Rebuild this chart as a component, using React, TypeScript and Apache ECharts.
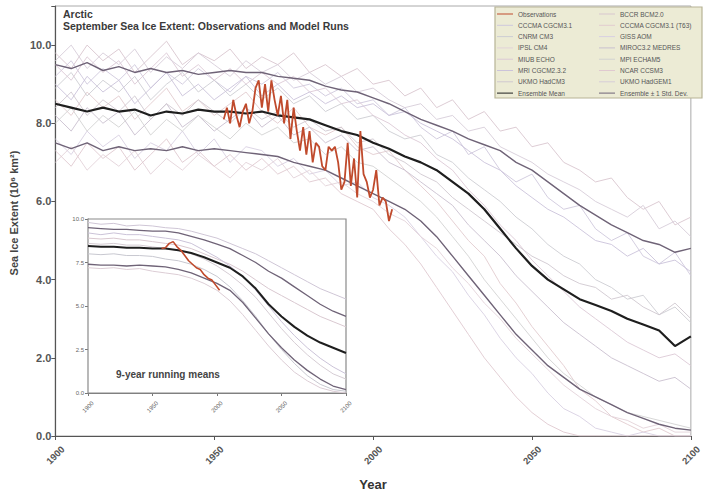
import React, { useEffect, useRef } from 'react';
import * as echarts from 'echarts';

const FONT = '"Liberation Sans", Arial, Helvetica, sans-serif';

// ---------- main panel data (5-year resolution) ----------
const years5 = [1900,1905,1910,1915,1920,1925,1930,1935,1940,1945,1950,1955,1960,1965,1970,1975,1980,1985,1990,1995,2000,2005,2010,2015,2020,2025,2030,2035,2040,2045,2050,2055,2060,2065,2070,2075,2080,2085,2090,2095,2100];

const ensembleMean = [8.5,8.4,8.3,8.4,8.3,8.35,8.2,8.3,8.25,8.35,8.3,8.3,8.25,8.3,8.2,8.15,8.1,7.95,7.8,7.7,7.5,7.35,7.15,7.0,6.8,6.5,6.2,5.8,5.3,4.8,4.35,4.0,3.75,3.5,3.35,3.2,3.0,2.85,2.7,2.3,2.55];
const stdUpper = [9.5,9.4,9.55,9.35,9.45,9.3,9.4,9.3,9.35,9.25,9.3,9.35,9.3,9.3,9.2,9.15,9.1,8.95,8.85,8.8,8.65,8.5,8.3,8.1,7.95,7.8,7.6,7.45,7.3,7.0,6.8,6.5,6.2,5.9,5.65,5.4,5.2,5.0,4.9,4.7,4.8];
const stdLower = [7.5,7.35,7.5,7.3,7.4,7.3,7.35,7.3,7.4,7.3,7.35,7.3,7.25,7.2,7.15,7.0,6.9,6.8,6.6,6.4,6.2,6.0,5.8,5.5,5.1,4.6,4.1,3.6,3.1,2.6,2.2,1.8,1.5,1.2,1.0,0.8,0.6,0.45,0.3,0.2,0.15];

const mBCCR = [9.8,9.4,10.0,9.6,9.9,9.3,9.7,10.1,9.5,9.8,9.6,9.9,9.4,9.7,9.5,9.8,9.3,9.5,9.2,9.4,9.0,9.1,8.7,8.9,8.4,8.6,8.1,8.3,7.8,7.9,7.4,7.5,7.0,6.8,6.5,6.6,6.1,5.8,6.0,5.4,5.6];
const mCGCM = [9.2,9.6,9.0,9.4,9.1,9.5,8.9,9.3,9.0,9.4,9.1,8.8,9.2,9.0,9.3,8.9,9.0,8.7,8.9,8.5,8.6,8.2,8.4,7.9,7.6,7.8,7.2,7.4,6.8,6.5,6.7,6.1,5.8,5.9,5.3,5.0,5.2,4.6,4.4,4.7,4.1];
const mCGCM63 = [8.6,8.2,8.8,8.4,8.7,8.1,8.5,8.9,8.3,8.6,8.2,8.5,8.8,8.3,8.0,8.4,7.9,7.7,7.9,7.4,7.2,7.3,6.8,6.4,6.0,5.5,5.0,4.6,3.9,3.4,2.8,2.3,1.8,1.2,0.9,0.5,0.3,0.1,0.2,0.0,0.0];
const mCNRM = [8.9,9.3,8.7,9.1,8.8,9.2,8.6,9.0,9.3,8.8,9.1,8.7,9.0,8.6,8.9,8.5,8.7,8.3,8.5,8.1,8.2,7.8,7.6,7.7,7.2,7.0,6.6,6.3,6.0,5.6,5.3,4.9,4.6,4.4,4.0,3.8,3.5,3.6,3.1,3.3,2.9];
const mGISS = [7.6,7.2,7.8,7.4,7.7,7.1,7.5,7.3,7.8,7.2,7.6,7.0,7.4,7.3,6.9,7.1,6.7,6.8,6.4,6.5,6.1,5.9,5.6,5.1,4.6,4.2,3.6,3.1,2.5,2.0,1.6,1.1,0.7,0.5,0.2,0.1,0.0,0.1,0.0,0.0,0.0];
const mIPSL = [7.0,7.4,6.8,7.2,6.9,7.3,6.7,7.1,6.8,7.2,6.9,6.6,7.0,6.8,7.1,6.6,6.8,6.4,6.5,6.2,6.0,5.7,5.5,5.1,4.8,4.3,3.9,3.4,3.0,2.5,2.1,1.7,1.3,1.0,0.7,0.5,0.4,0.2,0.3,0.1,0.1];
const mMIROC = [8.2,7.8,8.4,8.0,8.3,7.7,8.1,8.5,7.9,8.2,7.8,8.1,8.4,7.9,8.2,7.7,7.9,7.5,7.7,7.3,7.4,7.0,6.8,6.5,6.2,5.9,5.4,5.0,4.6,4.1,3.7,3.3,2.9,2.6,2.3,2.0,1.8,1.6,1.4,1.5,1.2];
const mMIUB = [9.5,9.1,9.7,9.3,9.6,9.0,9.4,9.8,9.2,9.5,9.1,9.4,9.0,9.3,9.0,9.2,8.8,8.9,8.5,8.6,8.2,8.0,7.7,7.5,7.1,6.8,6.3,5.9,5.4,5.0,4.5,4.1,3.7,3.3,3.0,2.7,2.4,2.2,2.0,2.1,1.8];
const mMPI = [8.0,8.4,7.8,8.2,7.9,8.3,7.7,8.1,7.8,8.2,7.9,7.6,8.0,7.7,7.9,7.5,7.6,7.2,7.4,7.0,6.9,6.6,6.3,6.0,5.6,5.1,4.6,4.0,3.5,3.0,2.5,2.0,1.6,1.3,1.0,0.8,0.6,0.5,0.4,0.3,0.2];
const mMRI = [9.0,8.6,9.2,8.8,9.1,8.5,8.9,9.3,8.7,9.0,8.6,8.9,9.2,8.7,9.0,8.6,8.8,8.5,8.7,8.4,8.5,8.2,8.3,8.0,7.8,7.6,7.3,7.0,6.8,6.4,6.1,5.8,5.6,5.3,5.0,4.9,4.6,4.8,4.4,4.5,4.2];
const mCCSM = [7.3,6.9,7.5,7.1,7.4,6.8,7.2,7.6,7.0,7.3,6.9,7.2,6.8,7.1,6.7,6.9,6.5,6.6,6.2,6.0,5.8,5.3,4.9,4.4,3.8,3.2,2.6,2.0,1.5,1.0,0.6,0.3,0.1,0.0,0.0,0.0,0.0,0.0,0.0,0.0,0.0];
const mHadCM3 = [8.4,8.8,8.2,8.6,8.3,8.7,8.1,8.5,8.2,8.6,8.3,8.0,8.4,8.1,8.3,7.9,8.1,7.8,7.9,7.5,7.6,7.2,7.0,6.7,6.5,6.1,5.8,5.5,5.2,4.9,4.6,4.4,4.1,3.9,3.8,3.5,3.6,3.3,3.1,3.4,3.0];
const mHadGEM = [9.6,10.0,9.4,9.8,9.5,9.9,9.3,9.7,9.4,9.8,9.5,9.2,9.6,9.3,9.5,9.1,9.3,9.0,9.2,8.8,8.9,8.6,8.4,8.5,8.1,8.2,7.8,7.9,7.4,7.2,7.0,6.7,6.5,6.3,6.0,5.8,5.6,5.9,5.3,5.5,5.1];

// observations (annual)
const obsYears = [1953,1954,1955,1956,1957,1958,1959,1960,1961,1962,1963,1964,1965,1966,1967,1968,1969,1970,1971,1972,1973,1974,1975,1976,1977,1978,1979,1980,1981,1982,1983,1984,1985,1986,1987,1988,1989,1990,1991,1992,1993,1994,1995,1996,1997,1998,1999,2000,2001,2002,2003,2004,2005,2006];
const obsValues = [8.1,8.4,8.0,8.6,8.2,7.9,8.3,8.5,8.0,8.3,8.9,9.1,8.4,9.0,8.3,9.1,8.6,8.2,8.7,8.0,8.6,7.6,8.4,7.8,7.3,7.9,7.2,7.8,7.0,7.5,7.4,6.9,6.8,7.4,7.3,7.4,7.0,6.3,6.5,7.5,6.4,7.1,6.1,7.8,6.7,6.5,6.1,6.3,6.8,5.9,6.1,6.0,5.5,5.8];

// ---------- inset data (9-year running means, 10-year resolution) ----------
const years10 = [1900,1910,1920,1930,1940,1950,1960,1970,1980,1990,2000,2010,2020,2030,2040,2050,2060,2070,2080,2090,2100];
const insetMean = [8.45,8.4,8.4,8.35,8.35,8.3,8.3,8.2,8.05,7.8,7.5,7.2,6.7,6.0,5.1,4.4,3.8,3.3,2.9,2.6,2.3];
const insetUpper = [9.5,9.45,9.4,9.4,9.35,9.3,9.3,9.2,9.0,8.8,8.55,8.3,7.9,7.5,7.0,6.6,6.1,5.6,5.1,4.7,4.4];
const insetLower = [7.4,7.35,7.35,7.3,7.35,7.3,7.25,7.1,6.9,6.6,6.3,5.9,5.2,4.3,3.4,2.6,1.9,1.3,0.8,0.4,0.2];
const insetM1 = [9.8,9.7,9.75,9.6,9.65,9.6,9.5,9.45,9.3,9.1,8.9,8.6,8.3,8.0,7.6,7.2,6.8,6.4,6.0,5.7,5.4];
const insetM2 = [8.9,8.85,8.9,8.8,8.8,8.7,8.6,8.5,8.3,8.0,7.7,7.4,7.0,6.5,6.0,5.6,5.2,4.8,4.4,4.1,3.8];
const insetM3 = [8.0,7.95,8.0,7.9,7.9,7.85,7.7,7.6,7.4,7.1,6.7,6.1,5.3,4.4,3.4,2.5,1.7,1.0,0.5,0.2,0.1];
const insetM4 = [7.2,7.15,7.2,7.1,7.15,7.0,6.9,6.8,6.6,6.3,5.9,5.3,4.5,3.6,2.7,1.9,1.2,0.7,0.3,0.1,0.0];
const insetM5 = [9.2,9.1,9.2,9.1,9.1,9.0,8.9,8.8,8.6,8.2,7.8,7.3,6.7,5.9,5.0,4.1,3.3,2.6,2.0,1.5,1.1];
const insetM6 = [8.6,8.55,8.6,8.5,8.5,8.4,8.3,8.2,8.0,7.7,7.3,6.8,6.2,5.5,4.6,3.7,2.9,2.2,1.6,1.1,0.8];
const insetObsYears = [1957,1960,1963,1966,1969,1972,1975,1978,1981,1984,1987,1990,1993,1996,1999,2002];
const insetObs = [8.3,8.35,8.6,8.7,8.4,8.2,7.9,7.6,7.4,7.2,7.1,6.8,6.6,6.5,6.2,5.9];

const xTicks = [1900, 1950, 2000, 2050, 2100];

const legendLeft = ['Observations','CCCMA CGCM3.1','CNRM CM3','IPSL CM4','MIUB ECHO','MRI CGCM2.3.2','UKMO HadCM3','Ensemble Mean'];
const legendRight = ['BCCR BCM2.0','CCCMA CGCM3.1 (T63)','GISS AOM','MIROC3.2 MEDRES','MPI ECHAM5','NCAR CCSM3','UKMO HadGEM1','Ensemble \u00B1 1 Std. Dev.'];

const models: [string, number[], string][] = [
  ['BCCR BCM2.0', mBCCR, '#d9c6cf'],
  ['CCCMA CGCM3.1', mCGCM, '#cfc8dc'],
  ['CCCMA CGCM3.1 (T63)', mCGCM63, '#e2cccf'],
  ['CNRM CM3', mCNRM, '#cdcdd3'],
  ['GISS AOM', mGISS, '#d8d0e2'],
  ['IPSL CM4', mIPSL, '#e3d3d9'],
  ['MIROC3.2 MEDRES', mMIROC, '#c9c0cf'],
  ['MIUB ECHO', mMIUB, '#dcc9d6'],
  ['MPI ECHAM5', mMPI, '#d2d2d2'],
  ['MRI CGCM2.3.2', mMRI, '#cbc3da'],
  ['NCAR CCSM3', mCCSM, '#e0c9d0'],
  ['UKMO HadCM3', mHadCM3, '#d0c8d0'],
  ['UKMO HadGEM1', mHadGEM, '#d7cdd9'],
];

function pairs(xs: number[], ys: number[]) {
  return xs.map((x, i) => [x, ys[i]]);
}

export default function App() {
  const ref = useRef<HTMLDivElement>(null);
  useEffect(() => {
    if (!ref.current) return;
    const chart = echarts.init(ref.current, null, { renderer: 'svg' });

    const line = (name: string, xs: number[], ys: number[], color: string, width: number, z: number, idx = 0) => ({
      type: 'line',
      name,
      data: pairs(xs, ys),
      xAxisIndex: idx,
      yAxisIndex: idx,
      symbol: 'none',
      silent: true,
      z,
      lineStyle: { color, width },
      itemStyle: { color },
    });

    const series: any[] = [];
    models.forEach(([n, v, c]) => series.push(line(n, years5, v, c, 0.9, 2)));
    series.push(line('Ensemble \u00B1 1 Std. Dev.', years5, stdUpper, '#6f6377', 1.4, 3));
    series.push(line('Ensemble \u00B1 1 Std. Dev.', years5, stdLower, '#6f6377', 1.4, 3));
    series.push(line('Ensemble Mean', years5, ensembleMean, '#1e1e1e', 2.2, 4));
    series.push(line('Observations', obsYears, obsValues, '#c04a2c', 1.8, 5));

    // inset
    const insetFaint = [insetM1, insetM2, insetM3, insetM4, insetM5, insetM6];
    const insetColors = ['#cfc6d6', '#d9c8d0', '#c8c8d0', '#dccdd5', '#cbc3d8', '#d6cdd4'];
    insetFaint.forEach((v, i) => series.push(line('inset model ' + (i + 1), years10, v, insetColors[i], 1, 6, 1)));
    series.push(line('inset upper', years10, insetUpper, '#6f6377', 1.3, 7, 1));
    series.push(line('inset lower', years10, insetLower, '#6f6377', 1.3, 7, 1));
    series.push(line('inset mean', years10, insetMean, '#1e1e1e', 2, 8, 1));
    series.push(line('inset obs', insetObsYears, insetObs, '#c04a2c', 1.6, 9, 1));

    const legendBase = {
      orient: 'vertical',
      top: 10,
      itemWidth: 16,
      itemHeight: 8,
      itemGap: 3.3,
      icon: 'path://M0,4 L16,4 L16,5 L0,5 Z',
      textStyle: { fontSize: 6.5, color: '#555', fontFamily: FONT, lineHeight: 8, padding: [0, 0, 0, 0] },
      selectedMode: false,
      padding: 0,
      z: 10,
    };

    chart.setOption({
      animation: false,
      textStyle: { fontFamily: FONT },
      grid: [
        { left: 52, right: 4, top: 6, bottom: 61, show: true, borderColor: '#aaaaaa', borderWidth: 1 },
        { left: 88, top: 219, width: 258, height: 174, show: true, backgroundColor: '#ffffff', borderColor: '#8a8a8a', borderWidth: 1.2, z: 5 },
      ],
      xAxis: [
        {
          type: 'value', gridIndex: 0, min: 1900, max: 2100, interval: 50,
          name: 'Year', nameLocation: 'middle', nameGap: 42,
          nameTextStyle: { fontSize: 13, fontWeight: 'bold', color: '#333', fontFamily: FONT },
          axisLine: { show: true, lineStyle: { color: '#555', width: 1.2 } },
          axisTick: { show: true, length: 4, lineStyle: { color: '#555' } },
          splitLine: { show: false },
          axisLabel: {
            rotate: 45, align: 'center', verticalAlign: 'middle', margin: 19,
            fontSize: 9.5, fontWeight: 'bold', color: '#555',
            formatter: (v: number) => (xTicks.includes(v) ? String(v) : ''),
          },
        },
        {
          type: 'value', gridIndex: 1, min: 1900, max: 2100, interval: 50,
          axisLine: { show: true, lineStyle: { color: '#777' } },
          axisTick: { show: true, length: 3, lineStyle: { color: '#777' } },
          splitLine: { show: false },
          axisLabel: {
            rotate: 45, align: 'center', verticalAlign: 'middle', margin: 14,
            fontSize: 6, color: '#666',
            formatter: (v: number) => String(v),
          },
        },
      ],
      yAxis: [
        {
          type: 'value', gridIndex: 0, min: 0, max: 11, interval: 2,
          name: 'Sea Ice Extent (10\u2076 km\u00B2)', nameLocation: 'middle', nameGap: 28, nameRotate: 90,
          nameTextStyle: { fontSize: 11, fontWeight: 'bold', color: '#444', fontFamily: FONT, padding: [0, 0, 0, 16] },
          axisLine: { show: true, lineStyle: { color: '#555', width: 1.2 } },
          axisTick: { show: true, length: 4, lineStyle: { color: '#555' } },
          splitLine: { show: false },
          axisLabel: { fontSize: 11, fontWeight: 'bold', color: '#555', margin: 4, formatter: (v: number) => (v > 10.5 ? '' : v.toFixed(1)) },
        },
        {
          type: 'value', gridIndex: 1, min: 0, max: 10, interval: 2.5,
          axisLine: { show: true, lineStyle: { color: '#777' } },
          axisTick: { show: true, length: 3, lineStyle: { color: '#777' } },
          splitLine: { show: false },
          axisLabel: { fontSize: 6, color: '#666', margin: 4, formatter: (v: number) => v.toFixed(1) },
        },
      ],
      legend: [
        { ...legendBase, left: 497, data: legendLeft },
        { ...legendBase, left: 599, data: legendRight },
      ],
      graphic: [
        {
          type: 'rect', z: 9, silent: true,
          shape: { x: 495, y: 7, width: 207, height: 91 },
          style: { fill: '#ecebd5', stroke: '#b7b496', lineWidth: 1.2 },
        },
        {
          type: 'text', left: 63, top: 8, z: 10, silent: true,
          style: { text: 'Arctic', font: 'bold 10.5px ' + FONT, fill: '#3a3a3a' },
        },
        {
          type: 'text', left: 63, top: 20, z: 10, silent: true,
          style: { text: 'September Sea Ice Extent: Observations and Model Runs', font: 'bold 10.5px ' + FONT, fill: '#3a3a3a' },
        },
        {
          type: 'text', left: 116, top: 369, z: 20, silent: true,
          style: { text: '9-year running means', font: 'bold 10px ' + FONT, fill: '#444' },
        },
      ],
      series,
    });

    return () => chart.dispose();
  }, []);

  return <div ref={ref} style={{ position: 'fixed', left: 0, top: 0, width: 704, height: 497, background: '#fff' }} />;
}
